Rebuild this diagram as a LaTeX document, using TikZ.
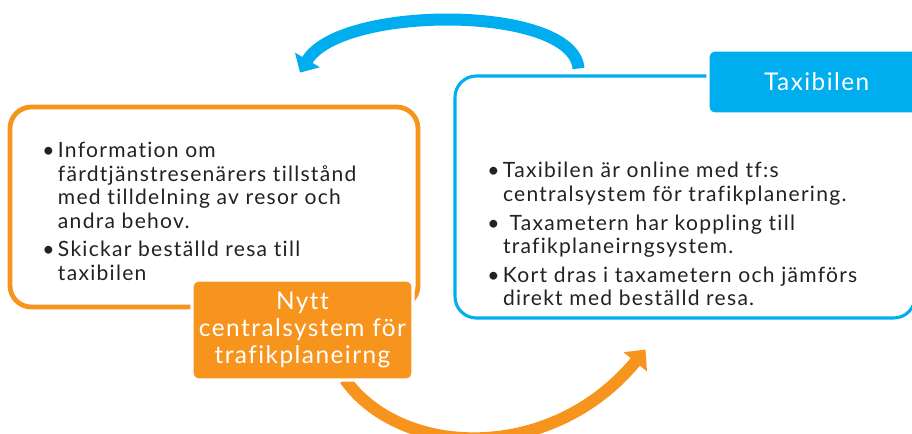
\documentclass[tikz,border=0pt]{standalone}
\usepackage{fontspec}
\setmainfont{Lato}[LetterSpace=6, Ligatures={NoCommon,NoDiscretionary,NoRare}]
\usetikzlibrary{positioning,arrows.meta,calc}
\definecolor{taxiorange}{HTML}{F7941D}
\definecolor{taxiblue}{HTML}{00AEEF}
\definecolor{textgray}{HTML}{222222}
\begin{document}
\begin{tikzpicture}[x=0.75pt, y=-0.75pt,
    outline/.style={rectangle, draw, fill=white, rounded corners=16pt, line width=3.6pt},
    headbox/.style={rectangle, rounded corners=5pt, draw=white, line width=2.5pt, text=white, align=center, font=\fontsize{18.3}{20.5}\selectfont},
    bullets/.style={anchor=north west, inner sep=0pt, align=left, text=textgray, font=\fontsize{15.8}{17.6}\selectfont},
    flow/.style={line width=9pt}
  ]
    \useasboundingbox (0,0) rectangle (912,434);
    \clip (0,0) rectangle (912,434);
    \node[outline, draw=taxiorange, minimum width=306pt, minimum height=150pt] (sys) at (214,207) {};
    \node[outline, draw=taxiblue, line width=2.3pt, minimum width=345pt, minimum height=181.5pt] (taxi) at (685,197) {};
    \draw[flow, taxiorange, -{Triangle[width=22pt,length=12pt]}] ($(sys.south)+(131,70)$) .. controls +(55,78) and +(-95,115) .. ($(taxi.south west)+(192,30)$);
    \draw[flow, taxiblue, -{Triangle[width=21pt,length=11pt]}] ($(taxi.north west)+(125,-6)$) .. controls +(-5,-64) and +(40,-68) .. ($(sys.north)+(86,-32)$);
    \node[headbox, fill=taxiorange, minimum width=165.75pt, minimum height=75pt] (ctrl) at (302.5,330) {Nytt\\centralsystem för\\trafikplaneirng};
    \node[headbox, fill=taxiblue, minimum width=159pt, minimum height=48pt] (car) at (814,82) {\hspace*{4pt}Taxibilen};
    \node[bullets] (systxt) at (42,142) {\textbullet\,Information om\\
      \hphantom{\textbullet\,}färdtjänstresenärers tillstånd\\
      \hphantom{\textbullet\,}med tilldelning av resor och\\
      \hphantom{\textbullet\,}andra behov.\\[4pt]
      \textbullet\,Skickar beställd resa till\\
      \hphantom{\textbullet\,}taxibilen};
    \node[bullets] (taxitxt) at (487,162) {\textbullet\,Taxibilen är online med tf:s\\
      \hphantom{\textbullet\,}centralsystem för trafikplanering.\\[4pt]
      \textbullet\,\ Taxametern har koppling till\\
      \hphantom{\textbullet\,}trafikplaneirngsystem.\\[4pt]
      \textbullet\,Kort dras i taxametern och jämförs\\
      \hphantom{\textbullet\,}direkt med beställd resa.};
  \end{tikzpicture}
\end{document}
